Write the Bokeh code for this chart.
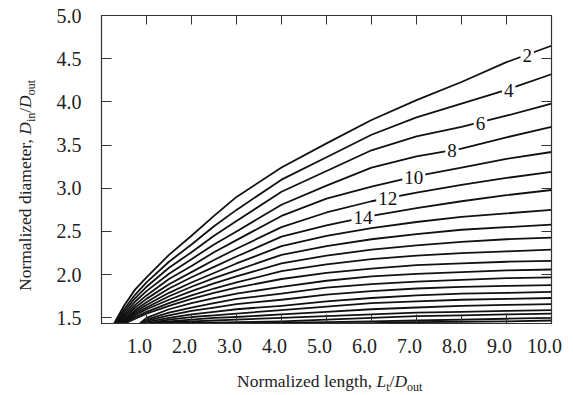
from bokeh.plotting import figure
from bokeh.models import (Range1d, FixedTicker, LinearAxis, Label, Div, CustomJSTickFormatter)
from bokeh.layouts import row, column
from bokeh.embed import file_html
from bokeh.resources import INLINE

# ---------------- data ----------------
X_MIN, X_MAX = 0.0, 10.0
Y_MIN, Y_MAX = 1.435, 5.0

x_grid = [0.5, 0.75, 1.0, 1.5, 2.0, 2.5, 3.0, 4.0, 5.0, 6.0, 7.0, 8.0, 9.0, 10.0]
N = None
# x at which each curve leaves the lower edge
start_x = [0.28, 0.30, 0.32, 0.34, 0.36, 0.38, 0.40, 0.42, 0.44, 0.46, 0.48, 0.52,
           0.85, 0.88, 0.92, 0.96, 1.02, 1.05, 1.10, 1.30, 2.00, 4.00]
c02 = [1.64, 1.83, 1.97, 2.23, 2.45, 2.68, 2.90, 3.24, 3.52, 3.79, 4.02, 4.23, 4.46, 4.65]
c04 = [1.60, 1.77, 1.91, 2.15, 2.35, 2.56, 2.75, 3.10, 3.36, 3.62, 3.82, 3.98, 4.14, 4.32]
c06 = [1.57, 1.73, 1.86, 2.08, 2.26, 2.45, 2.62, 2.96, 3.20, 3.44, 3.60, 3.71, 3.84, 3.98]
c08 = [1.54, 1.69, 1.81, 2.01, 2.18, 2.35, 2.50, 2.81, 3.03, 3.24, 3.37, 3.46, 3.59, 3.71]
c10 = [1.52, 1.65, 1.76, 1.95, 2.10, 2.26, 2.40, 2.68, 2.88, 3.02, 3.14, 3.24, 3.34, 3.42]
c12 = [1.50, 1.62, 1.72, 1.89, 2.03, 2.17, 2.30, 2.55, 2.72, 2.85, 2.95, 3.04, 3.12, 3.19]
c14 = [1.48, 1.59, 1.68, 1.84, 1.97, 2.09, 2.21, 2.44, 2.57, 2.68, 2.77, 2.85, 2.92, 2.98]
c16 = [1.47, 1.57, 1.65, 1.79, 1.91, 2.02, 2.13, 2.33, 2.45, 2.54, 2.61, 2.67, 2.71, 2.75]
c18 = [1.46, 1.55, 1.62, 1.75, 1.86, 1.96, 2.05, 2.23, 2.33, 2.41, 2.47, 2.52, 2.55, 2.58]
c20 = [1.45, 1.53, 1.60, 1.71, 1.81, 1.90, 1.98, 2.13, 2.22, 2.29, 2.34, 2.38, 2.41, 2.43]
c22 = [1.445, 1.51, 1.57, 1.67, 1.76, 1.84, 1.91, 2.04, 2.12, 2.18, 2.22, 2.25, 2.27, 2.29]
c24 = [N, 1.49, 1.55, 1.64, 1.72, 1.79, 1.85, 1.95, 2.02, 2.07, 2.11, 2.13, 2.15, 2.16]
c26 = [N, N, 1.50, 1.60, 1.67, 1.73, 1.78, 1.86, 1.93, 1.98, 2.01, 2.03, 2.05, 2.06]
c28 = [N, N, 1.48, 1.56, 1.62, 1.67, 1.72, 1.78, 1.85, 1.89, 1.92, 1.94, 1.96, 1.97]
c30 = [N, N, 1.465, 1.53, 1.58, 1.62, 1.66, 1.71, 1.77, 1.81, 1.84, 1.86, 1.87, 1.88]
c32 = [N, N, 1.45, 1.50, 1.54, 1.57, 1.60, 1.64, 1.69, 1.73, 1.76, 1.78, 1.79, 1.80]
c34 = [N, N, N, 1.48, 1.51, 1.53, 1.55, 1.59, 1.63, 1.67, 1.69, 1.71, 1.72, 1.73]
c36 = [N, N, N, 1.46, 1.48, 1.50, 1.51, 1.54, 1.57, 1.60, 1.62, 1.64, 1.65, 1.66]
c38 = [N, N, N, 1.45, 1.46, 1.47, 1.48, 1.50, 1.52, 1.54, 1.56, 1.57, 1.58, 1.59]
c40 = [N, N, N, N, 1.445, 1.445, 1.45, 1.46, 1.48, 1.50, 1.52, 1.53, 1.54, 1.55]
c42 = [N, N, N, N, N, N, N, 1.445, 1.45, 1.46, 1.47, 1.48, 1.49, 1.50]
c44 = [N, N, N, N, N, N, N, N, N, 1.44, 1.45, 1.455, 1.46, 1.47]
curves = [c02, c04, c06, c08, c10, c12, c14, c16, c18, c20, c22,
          c24, c26, c28, c30, c32, c34, c36, c38, c40, c42, c44]

contour_text = ["2", "4", "6", "8", "10", "12", "14"]
contour_x = [9.46, 9.05, 8.42, 7.79, 6.94, 6.36, 5.81]
contour_y = [4.54, 4.13, 3.75, 3.44, 3.13, 2.88, 2.66]

x_tick_values = [1, 2, 3, 4, 5, 6, 7, 8, 9, 10]
x_tick_labels = ["1.0", "2.0", "3.0", "4.0", "5.0", "6.0", "7.0", "8.0", "9.0", "10.0"]
y_tick_values = [1.5, 2.0, 2.5, 3.0, 3.5, 4.0, 4.5, 5.0]
y_tick_labels = ["1.5", "2.0", "2.5", "3.0", "3.5", "4.0", "4.5", "5.0"]

x_title_html = ("Normalized length, <i>L</i><span class='s'>t</span>/"
                "<i>D</i><span class='s'>out</span>")
y_title_html = ("Normalized diameter, <i>D</i><span class='s'>in</span>/"
                "<i>D</i><span class='s'>out</span>")

# ---------------- figure ----------------
FONT = "Liberation Serif"
AX = "#333333"
LEFT_W = 40           # width of the column holding the y title
FIG_W, FIG_H = 533, 365
TITLE_H = 30

p = figure(width=FIG_W, height=FIG_H, output_backend="svg", toolbar_location=None,
           x_range=Range1d(X_MIN, X_MAX), y_range=Range1d(Y_MIN, Y_MAX),
           min_border_left=61, min_border_right=22, min_border_top=15, min_border_bottom=42,
           background_fill_color="white", border_fill_color="white", margin=0)
p.grid.visible = False
p.outline_line_color = AX
p.outline_line_width = 1.2

xs, ys = [], []
for sx, c in zip(start_x, curves):
    pts = [(g, v) for g, v in zip(x_grid, c) if v is not None and g > sx]
    xs.append([sx] + [g for g, _ in pts])
    ys.append([Y_MIN] + [v for _, v in pts])
p.multi_line(xs, ys, line_color="#111111", line_width=1.8, line_join="round")

blank = CustomJSTickFormatter(code="return ''")

# bottom axis: inward ticks only
xa = p.xaxis[0]
xa.ticker = FixedTicker(ticks=x_tick_values)
xa.formatter = blank
xa.major_label_text_font_size = "1px"
xa.major_label_standoff = 0
xa.major_tick_in = 9
xa.major_tick_out = 0
xa.minor_tick_line_color = None
xa.axis_line_color = AX
xa.major_tick_line_color = AX

# bottom tick labels: the original prints them ~7 px left of their ticks
shift = 7.0 / 45.0
p.extra_x_ranges = {"xlab": Range1d(X_MIN + shift, X_MAX + shift)}
xl = LinearAxis(x_range_name="xlab", ticker=FixedTicker(ticks=x_tick_values),
                major_label_overrides={v: t for v, t in zip(x_tick_values, x_tick_labels)},
                major_tick_in=0, major_tick_out=0, minor_tick_line_color=None,
                axis_line_color=None, major_label_standoff=15,
                major_label_text_font=FONT, major_label_text_font_size="20px",
                major_label_text_color="#222222")
p.add_layout(xl, "below")

ya = p.yaxis[0]
ya.ticker = FixedTicker(ticks=y_tick_values)
ya.major_label_overrides = {v: t for v, t in zip(y_tick_values, y_tick_labels)}
ya.major_tick_in = 10
ya.major_tick_out = 0
ya.minor_tick_line_color = None
ya.axis_line_color = AX
ya.major_tick_line_color = AX
ya.major_label_text_font = FONT
ya.major_label_text_font_size = "20px"
ya.major_label_text_color = "#222222"
ya.major_label_standoff = 20

top = LinearAxis(ticker=FixedTicker(ticks=x_tick_values), formatter=blank,
                 major_label_text_font_size="1px", major_label_standoff=0,
                 major_tick_in=9, major_tick_out=0, minor_tick_line_color=None,
                 axis_line_color=AX, major_tick_line_color=AX)
right = LinearAxis(ticker=FixedTicker(ticks=y_tick_values), formatter=blank,
                   major_label_text_font_size="1px", major_label_standoff=0,
                   major_tick_in=10, major_tick_out=0, minor_tick_line_color=None,
                   axis_line_color=AX, major_tick_line_color=AX)
p.add_layout(top, "above")
p.add_layout(right, "right")

# contour labels
for t, cx, cy in zip(contour_text, contour_x, contour_y):
    p.add_layout(Label(x=cx, y=cy, text=t, text_align="center", text_baseline="middle",
                       text_font=FONT, text_font_size="19px", text_color="#111111",
                       background_fill_color="white", padding=2))

# axis titles (HTML for italic symbols and subscripts)
CSS = ("<style>.s{font-size:12px;position:relative;top:4px;}"
       ".t{display:inline-block;white-space:nowrap;font-family:'Liberation Serif';"
       "color:#222222;line-height:1.15;transform-origin:0 0;}</style>")
xdiv = Div(width=FIG_W, height=TITLE_H, margin=0,
           text=CSS + "<div class='t' style='font-size:17.5px;"
                      "transform:translate(197px,6px);'>" + x_title_html + "</div>")
ydiv = Div(width=LEFT_W, height=FIG_H + TITLE_H, margin=0,
           text=CSS + "<div class='t' style='font-size:17.5px;"
                      "transform:translate(15px,291px) rotate(-90deg);'>" + y_title_html + "</div>")

layout = row(ydiv, column(p, xdiv, spacing=0, margin=0), spacing=0, margin=0)

open("out.html", "w").write(file_html(layout, INLINE))
